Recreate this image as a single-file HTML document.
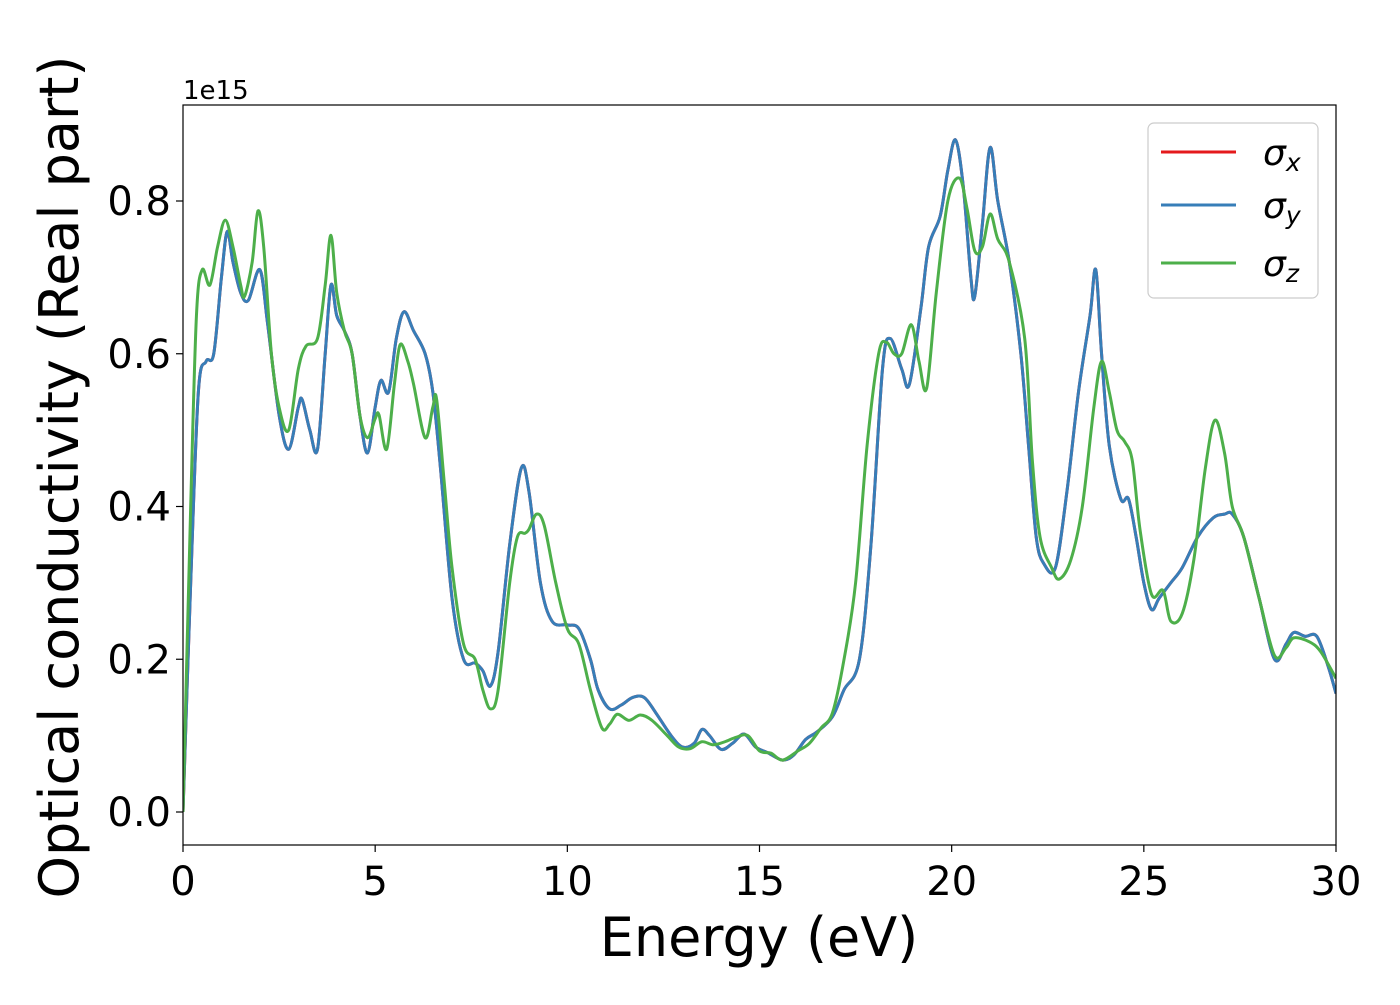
<!DOCTYPE html>
<html><head><meta charset="utf-8"><style>
body{margin:0;background:#fff;}
svg text{font-family:"DejaVu Sans","Liberation Sans",sans-serif;fill:#000;}
</style></head><body>
<svg id="chart" width="1400" height="1000" xmlns="http://www.w3.org/2000/svg">
<rect width="1400" height="1000" fill="#fff"/>
<g id="plot"></g>
<g id="axes"></g>
</svg>
<script>
const xTicks=[0,5,10,15,20,25,30];
const yTicks=[0.0,0.2,0.4,0.6,0.8];
const yTickLabels=["0.0","0.2","0.4","0.6","0.8"];
const eXY=[0,0.2,0.4,0.6,0.8,1.0,1.15,1.3,1.5,1.7,2.0,2.2,2.5,2.75,3.0,3.1,3.3,3.5,3.7,3.85,4.0,4.2,4.4,4.6,4.8,5.0,5.15,5.35,5.55,5.75,6.0,6.3,6.5,6.7,7.0,7.3,7.6,7.8,8.0,8.2,8.5,8.8,9.0,9.3,9.6,10.0,10.3,10.6,10.8,11.1,11.4,11.7,12.0,12.3,12.7,13.0,13.3,13.5,13.7,14.0,14.3,14.6,14.9,15.2,15.6,15.9,16.2,16.5,16.9,17.2,17.6,17.9,18.2,18.4,18.7,18.9,19.2,19.4,19.7,19.9,20.1,20.3,20.5,20.6,20.8,21.0,21.2,21.5,21.8,22.0,22.2,22.4,22.7,23.0,23.3,23.6,23.75,23.9,24.1,24.4,24.6,24.8,25.0,25.2,25.4,25.7,26.0,26.4,26.8,27.1,27.3,27.6,28.0,28.4,28.7,28.9,29.2,29.5,29.8,30];
const sigmaY=[0,0.3,0.55,0.59,0.6,0.7,0.76,0.72,0.68,0.67,0.71,0.64,0.52,0.475,0.53,0.54,0.5,0.475,0.6,0.69,0.65,0.63,0.6,0.52,0.47,0.53,0.565,0.55,0.62,0.655,0.63,0.6,0.55,0.45,0.28,0.2,0.195,0.185,0.165,0.21,0.35,0.45,0.42,0.3,0.25,0.245,0.24,0.2,0.16,0.135,0.14,0.15,0.15,0.13,0.1,0.085,0.09,0.108,0.1,0.082,0.09,0.102,0.085,0.078,0.068,0.075,0.095,0.105,0.125,0.16,0.2,0.35,0.58,0.62,0.58,0.56,0.66,0.74,0.78,0.84,0.88,0.82,0.7,0.675,0.77,0.87,0.8,0.72,0.6,0.48,0.36,0.325,0.32,0.42,0.55,0.65,0.71,0.6,0.48,0.41,0.41,0.36,0.3,0.265,0.28,0.3,0.32,0.36,0.385,0.39,0.39,0.36,0.28,0.2,0.22,0.235,0.23,0.23,0.19,0.155];
const sigmaX=sigmaY.slice();
const eZ=[0,0.2,0.35,0.5,0.7,0.9,1.1,1.3,1.5,1.6,1.8,1.95,2.1,2.3,2.5,2.75,3.0,3.2,3.5,3.7,3.85,4.0,4.2,4.4,4.6,4.8,5.0,5.1,5.3,5.5,5.65,5.85,6.0,6.3,6.5,6.6,6.8,7.0,7.3,7.6,7.8,8.0,8.2,8.5,8.7,8.9,9.0,9.2,9.4,9.7,10.0,10.3,10.6,10.9,11.1,11.3,11.6,11.9,12.2,12.6,12.9,13.2,13.5,13.8,14.1,14.4,14.7,15.0,15.3,15.6,16.0,16.3,16.6,16.9,17.2,17.5,17.8,18.1,18.3,18.5,18.7,18.95,19.15,19.35,19.6,19.9,20.2,20.4,20.6,20.8,21.0,21.2,21.5,21.9,22.1,22.3,22.6,22.8,23.1,23.4,23.7,23.9,24.1,24.3,24.5,24.7,24.9,25.2,25.5,25.7,26.0,26.3,26.6,26.85,27.1,27.3,27.6,28.0,28.4,28.7,28.9,29.3,29.6,30];
const sigmaZ=[0,0.4,0.65,0.71,0.69,0.74,0.775,0.74,0.69,0.675,0.72,0.787,0.74,0.6,0.53,0.5,0.58,0.61,0.62,0.69,0.755,0.68,0.63,0.6,0.52,0.49,0.515,0.52,0.475,0.56,0.612,0.59,0.56,0.49,0.53,0.54,0.43,0.32,0.22,0.2,0.16,0.135,0.16,0.3,0.36,0.365,0.37,0.39,0.375,0.3,0.24,0.22,0.16,0.11,0.115,0.128,0.12,0.127,0.12,0.1,0.085,0.083,0.092,0.088,0.092,0.098,0.1,0.08,0.077,0.068,0.08,0.09,0.11,0.13,0.2,0.3,0.48,0.6,0.615,0.6,0.6,0.638,0.59,0.555,0.68,0.8,0.83,0.79,0.735,0.74,0.783,0.75,0.72,0.62,0.46,0.36,0.32,0.305,0.33,0.4,0.53,0.59,0.55,0.5,0.485,0.46,0.37,0.285,0.29,0.25,0.26,0.33,0.45,0.513,0.47,0.4,0.36,0.28,0.205,0.215,0.228,0.223,0.21,0.175];

const NS="http://www.w3.org/2000/svg";
const L=183,R=1336,T=105,B=845;
const xs=v=>L+(v-0)/(30-0)*(R-L);
const ys=v=>812+(v-0)*(201-812)/0.8;
function mk(tag,attrs,parent){const e=document.createElementNS(NS,tag);for(const k in attrs)e.setAttribute(k,attrs[k]);parent.appendChild(e);return e;}
function pathD(xv,yv){
  const p=xv.map((x,i)=>[xs(x),ys(yv[i])]);
  let d="M"+p[0][0].toFixed(2)+","+p[0][1].toFixed(2);
  for(let i=0;i<p.length-1;i++){
    const p0=p[Math.max(0,i-1)],p1=p[i],p2=p[i+1],p3=p[Math.min(p.length-1,i+2)];
    const c1=[p1[0]+(p2[0]-p0[0])/6,p1[1]+(p2[1]-p0[1])/6];
    const c2=[p2[0]-(p3[0]-p1[0])/6,p2[1]-(p3[1]-p1[1])/6];
    d+="C"+c1[0].toFixed(2)+","+c1[1].toFixed(2)+" "+c2[0].toFixed(2)+","+c2[1].toFixed(2)+" "+p2[0].toFixed(2)+","+p2[1].toFixed(2);
  }
  return d;
}
const plot=document.getElementById('plot');
const axes=document.getElementById('axes');
mk('clipPath',{id:'clip'},plot);
mk('rect',{x:L,y:T,width:R-L,height:B-T},document.getElementById('clip'));
const series=[[eXY,sigmaX,'#e41a1c','series-sigma-x'],[eXY,sigmaY,'#377eb8','series-sigma-y'],[eZ,sigmaZ,'#4daf4a','series-sigma-z']];
series.forEach(s=>{
  const el=mk('path',{d:pathD(s[0],s[1]),fill:'none',stroke:s[2],'stroke-width':3,'clip-path':'url(#clip)','stroke-linejoin':'round'},plot);
  
  
});
const frame=mk('rect',{x:L,y:T,width:R-L,height:B-T,fill:'none',stroke:'#000','stroke-width':1.2},axes);


xTicks.forEach(v=>{
  const x=xs(v);
  const tk=mk('line',{x1:x,x2:x,y1:B,y2:B+7,stroke:'#000','stroke-width':1.2},axes);
  
  
  const t=mk('text',{x:x,y:B+50,'font-size':40,'text-anchor':'middle'},axes);
  t.textContent=v;
  
  
});
yTicks.forEach((v,i)=>{
  const y=ys(v);
  const tk=mk('line',{x1:L-7,x2:L,y1:y,y2:y,stroke:'#000','stroke-width':1.2},axes);
  
  
  const t=mk('text',{x:L-12,y:y+14,'font-size':40,'text-anchor':'end'},axes);
  t.textContent=yTickLabels[i];
  
  
});
</script>
<svg style="position:absolute;left:0;top:0" width="1400" height="1000" xmlns="http://www.w3.org/2000/svg">
<text x="183" y="99" font-size="26" style="font-family:'DejaVu Sans','Liberation Sans',sans-serif">1e15</text>
<text x="759" y="956" font-size="54" text-anchor="middle" style="font-family:'DejaVu Sans','Liberation Sans',sans-serif">Energy (eV)</text>
<text transform="translate(78,477) rotate(-90)" font-size="54" text-anchor="middle" style="font-family:'DejaVu Sans','Liberation Sans',sans-serif">Optical conductivity (Real part)</text>
<g>
<rect x="1148" y="123" width="170" height="175" rx="6" fill="#fff" fill-opacity="0.8" stroke="#ccc" stroke-width="1.2"/>
<line x1="1161" x2="1236" y1="152" y2="152" stroke="#e41a1c" stroke-width="3"/>
<line x1="1161" x2="1236" y1="205" y2="205" stroke="#377eb8" stroke-width="3"/>
<line x1="1161" x2="1236" y1="263" y2="263" stroke="#4daf4a" stroke-width="3"/>
<text x="1263" y="165" font-size="36" font-style="italic" style="font-family:'DejaVu Sans',sans-serif">σ<tspan font-size="25" dy="6">x</tspan></text>
<text x="1263" y="218" font-size="36" font-style="italic" style="font-family:'DejaVu Sans',sans-serif">σ<tspan font-size="25" dy="6">y</tspan></text>
<text x="1263" y="276" font-size="36" font-style="italic" style="font-family:'DejaVu Sans',sans-serif">σ<tspan font-size="25" dy="6">z</tspan></text>
</g>
</svg>
</body></html>
